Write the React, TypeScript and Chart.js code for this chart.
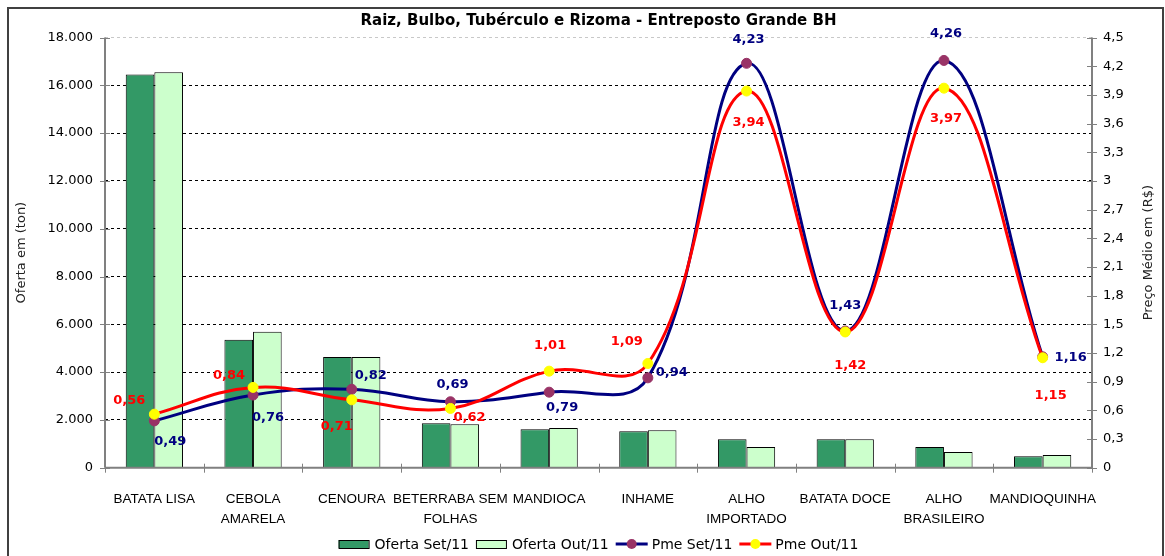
import React, { useEffect, useRef } from 'react';
import { Chart, registerables } from 'chart.js';

Chart.register(...registerables);

const chartTitle = 'Raiz, Bulbo, Tubérculo e Rizoma - Entreposto Grande BH';
const leftAxisTitle = 'Oferta em (ton)';
const rightAxisTitle = 'Preço Médio em (R$)';

const categories: string[][] = [
  ['BATATA LISA'],
  ['CEBOLA', 'AMARELA'],
  ['CENOURA'],
  ['BETERRABA SEM', 'FOLHAS'],
  ['MANDIOCA'],
  ['INHAME'],
  ['ALHO', 'IMPORTADO'],
  ['BATATA DOCE'],
  ['ALHO', 'BRASILEIRO'],
  ['MANDIOQUINHA'],
];

const ofertaSet = [16450, 5350, 4630, 1860, 1610, 1520, 1190, 1190, 870, 480];
const ofertaOut = [16550, 5690, 4630, 1820, 1660, 1570, 870, 1190, 660, 530];
const pmeSet = [0.49, 0.76, 0.82, 0.69, 0.79, 0.94, 4.23, 1.43, 4.26, 1.16];
const pmeOut = [0.56, 0.84, 0.71, 0.62, 1.01, 1.09, 3.94, 1.42, 3.97, 1.15];

const seriesNames = ['Oferta Set/11', 'Oferta Out/11', 'Pme Set/11', 'Pme Out/11'];

const leftMax = 18000;
const leftStep = 2000;
const rightMax = 4.5;
const rightStep = 0.3;

// label placement offsets (px) relative to each point
const setLabelOffsets = [[16, 21], [15, 23], [19, -14], [2, -17], [13, 15], [24, -5], [2, -24], [0, -25], [2, -27], [28, 1]];
const outLabelOffsets = [[-25, -14], [-24, -12], [-15, 27], [19, 9], [1, -26], [-21, -22], [2, 32], [5, 34], [2, 30], [8, 38]];

const C_SET_BAR = '#339966';
const C_OUT_BAR = '#CCFFCC';
const C_SET_LINE = '#000080';
const C_SET_MARK = '#993366';
const C_OUT_LINE = '#FF0000';
const C_OUT_MARK = '#FFFF00';
const AXIS_GRAY = '#808080';

const fmtLeft = (v: number) => String(Math.round(v)).replace(/\B(?=(\d{3})+(?!\d))/g, '.');
const fmtDec = (v: number) => String(Math.round(v * 100) / 100).replace('.', ',');
const fmtRight = (v: number) => String(Math.round(v * 10) / 10).replace('.', ',');

const excelPlugin = {
  id: 'excelPlugin',
  beforeDraw(chart: any) {
    const { ctx, width, height } = chart;
    ctx.save();
    ctx.fillStyle = '#ffffff';
    ctx.fillRect(0, 0, width, height);
    ctx.strokeStyle = '#404040';
    ctx.lineWidth = 2;
    ctx.strokeRect(8, 8, 1155, 700);
    ctx.restore();
  },
  afterDatasetsDraw(chart: any) {
    const { ctx, chartArea } = chart;
    const { left, right, top, bottom } = chartArea;
    const yL = chart.scales.y;
    const yR = chart.scales.y1;
    ctx.save();
    ctx.strokeStyle = AXIS_GRAY;
    ctx.lineWidth = 2;
    ctx.beginPath();
    ctx.moveTo(left, top);
    ctx.lineTo(left, bottom);
    ctx.moveTo(right, top);
    ctx.lineTo(right, bottom);
    ctx.moveTo(left, bottom);
    ctx.lineTo(right, bottom);
    ctx.stroke();
    ctx.lineWidth = 1;
    ctx.beginPath();
    yL.ticks.forEach((t: any) => {
      const py = Math.round(yL.getPixelForValue(t.value)) + 0.5;
      ctx.moveTo(left - 5, py);
      ctx.lineTo(left + 5, py);
    });
    yR.ticks.forEach((t: any) => {
      const py = Math.round(yR.getPixelForValue(t.value)) + 0.5;
      ctx.moveTo(right - 5, py);
      ctx.lineTo(right + 5, py);
    });
    const n = categories.length;
    for (let i = 0; i <= n; i++) {
      const px = Math.round(left + (i * (right - left)) / n) + 0.5;
      ctx.moveTo(px, bottom - 4);
      ctx.lineTo(px, bottom + 5);
    }
    ctx.stroke();
    ctx.restore();
  },
  afterDraw(chart: any) {
    const { ctx, chartArea } = chart;
    ctx.save();
    // data labels
    ctx.font = 'bold 13px "DejaVu Sans"';
    ctx.textAlign = 'center';
    ctx.textBaseline = 'middle';
    chart.data.datasets.forEach((ds: any, di: number) => {
      if (ds.type !== 'line') return;
      const meta = chart.getDatasetMeta(di);
      const isSet = ds.label === seriesNames[2];
      const offs = isSet ? setLabelOffsets : outLabelOffsets;
      ctx.fillStyle = isSet ? C_SET_LINE : C_OUT_LINE;
      meta.data.forEach((pt: any, i: number) => {
        ctx.fillText(fmtDec(ds.data[i]), pt.x + offs[i][0], pt.y + offs[i][1]);
      });
    });

    // right axis title (reads bottom to top)
    ctx.font = '13px "DejaVu Sans"';
    ctx.fillStyle = '#222';
    ctx.save();
    ctx.translate(1149, (chartArea.top + chartArea.bottom) / 2);
    ctx.rotate(-Math.PI / 2);
    ctx.fillText(rightAxisTitle, 0, 0);
    ctx.restore();

    // legend
    ctx.font = '14px "DejaVu Sans"';
    ctx.textAlign = 'left';
    const markerW = 32;
    const gap = 4;
    const itemGap = 7;
    const widths = seriesNames.map((s) => markerW + gap + ctx.measureText(s).width);
    const total = widths.reduce((a, b) => a + b, 0) + itemGap * (widths.length - 1);
    let x = (chartArea.left + chartArea.right) / 2 - total / 2;
    const ly = 544;
    seriesNames.forEach((s, i) => {
      if (i < 2) {
        ctx.fillStyle = i === 0 ? C_SET_BAR : C_OUT_BAR;
        ctx.fillRect(x, ly - 4, markerW - 2, 8);
        ctx.strokeStyle = '#000';
        ctx.lineWidth = 1;
        ctx.strokeRect(x + 0.5, ly - 3.5, markerW - 2, 8);
      } else {
        const lc = i === 2 ? C_SET_LINE : C_OUT_LINE;
        const mc = i === 2 ? C_SET_MARK : C_OUT_MARK;
        ctx.strokeStyle = lc;
        ctx.lineWidth = 3;
        ctx.beginPath();
        ctx.moveTo(x, ly);
        ctx.lineTo(x + markerW, ly);
        ctx.stroke();
        ctx.fillStyle = mc;
        ctx.beginPath();
        ctx.arc(x + markerW / 2, ly, 5, 0, Math.PI * 2);
        ctx.fill();
      }
      ctx.fillStyle = '#000';
      ctx.fillText(s, x + markerW + gap, ly + 1);
      x += widths[i] + itemGap;
    });
    ctx.restore();
  },
};

export default function App() {
  const canvasRef = useRef<HTMLCanvasElement | null>(null);

  useEffect(() => {
    if (!canvasRef.current) return;
    const chart = new Chart(canvasRef.current, {
      type: 'bar',
      data: {
        labels: categories as any,
        datasets: [
          {
            type: 'line',
            label: seriesNames[3],
            data: pmeOut,
            yAxisID: 'y1',
            borderColor: C_OUT_LINE,
            borderWidth: 3,
            pointRadius: 5,
            pointBackgroundColor: C_OUT_MARK,
            pointBorderColor: C_OUT_MARK,
            pointBorderWidth: 1,
            tension: 0.4,
            order: 0,
          } as any,
          {
            type: 'line',
            label: seriesNames[2],
            data: pmeSet,
            yAxisID: 'y1',
            borderColor: C_SET_LINE,
            borderWidth: 3,
            pointRadius: 5,
            pointBackgroundColor: C_SET_MARK,
            pointBorderColor: C_SET_MARK,
            pointBorderWidth: 1,
            tension: 0.4,
            order: 1,
          } as any,
          {
            type: 'bar',
            label: seriesNames[0],
            data: ofertaSet,
            yAxisID: 'y',
            backgroundColor: C_SET_BAR,
            borderColor: '#000',
            borderWidth: 1,
            categoryPercentage: 0.58,
            barPercentage: 1,
            order: 3,
          } as any,
          {
            type: 'bar',
            label: seriesNames[1],
            data: ofertaOut,
            yAxisID: 'y',
            backgroundColor: C_OUT_BAR,
            borderColor: '#000',
            borderWidth: 1,
            categoryPercentage: 0.58,
            barPercentage: 1,
            order: 3,
          } as any,
        ],
      },
      options: {
        animation: false,
        responsive: true,
        maintainAspectRatio: false,
        layout: { padding: { left: 10, right: 4, top: 0, bottom: 0 } },
        plugins: {
          legend: { display: false },
          tooltip: { enabled: false },
          title: {
            display: true,
            text: chartTitle,
            fullSize: false,
            color: '#000',
            font: { family: 'DejaVu Sans', size: 15, weight: 'bold', lineHeight: 1.1 },
            padding: { top: 13, bottom: 8 },
          },
        },
        scales: {
          x: {
            type: 'category',
            offset: true,
            grid: { display: false },
            border: { display: false },
            ticks: {
              autoSkip: false,
              maxRotation: 0,
              minRotation: 0,
              padding: 14,
              color: '#000',
              font: { family: 'Liberation Sans', size: 13.5, lineHeight: '20px' } as any,
            },
            afterFit: (s: any) => {
              s.height = 88.3;
            },
          },
          y: {
            type: 'linear',
            position: 'left',
            min: 0,
            max: leftMax,
            ticks: {
              stepSize: leftStep,
              padding: 12,
              color: '#000',
              font: { family: 'DejaVu Sans', size: 13 },
              callback: (v: any) => fmtLeft(Number(v)),
            },
            grid: {
              drawTicks: false,
              lineWidth: 1,
              color: (c: any) => (c.tick && c.tick.value === leftMax ? '#c8c8c8' : '#000'),
            },
            border: { display: false, dash: [3, 3] },
            title: {
              display: true,
              text: leftAxisTitle,
              color: '#222',
              font: { family: 'DejaVu Sans', size: 13 },
              padding: { top: 4, bottom: 0 },
            },
            afterFit: (s: any) => {
              s.width = 95;
            },
          },
          y1: {
            type: 'linear',
            position: 'right',
            min: 0,
            max: rightMax,
            ticks: {
              stepSize: rightStep,
              padding: 11,
              color: '#000',
              font: { family: 'DejaVu Sans', size: 13 },
              callback: (v: any) => fmtRight(Number(v)),
            },
            grid: { drawOnChartArea: false, drawTicks: false },
            border: { display: false },
            afterFit: (s: any) => {
              s.width = 69;
            },
          },
        },
      },
      plugins: [excelPlugin],
    });
    return () => chart.destroy();
  }, []);

  return (
    <div style={{ position: 'fixed', left: 0, top: 0, width: 1165, height: 556, background: '#fff' }}>
      <canvas ref={canvasRef} />
    </div>
  );
}
